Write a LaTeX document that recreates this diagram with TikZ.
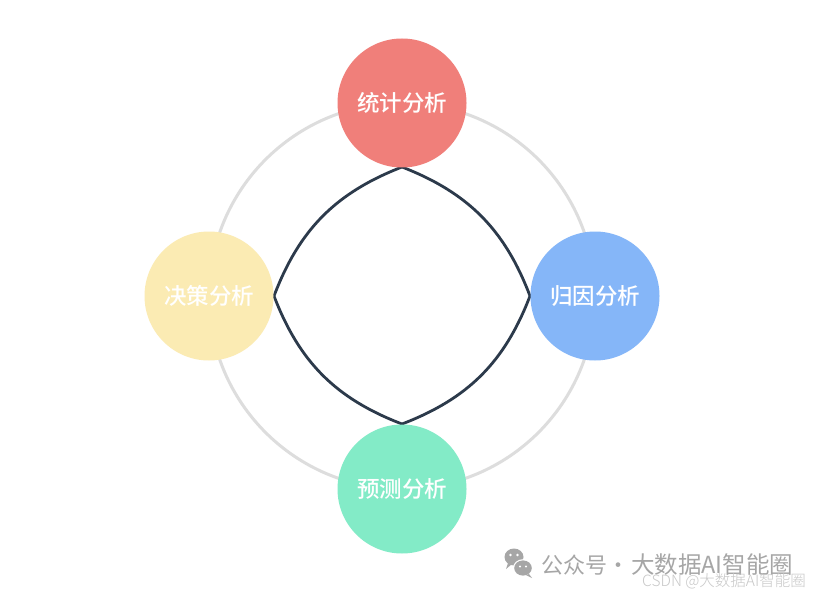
\documentclass[tikz,border=0pt]{standalone}
\usepackage{fontspec}
\newfontfamily\cjk{Noto Sans CJK SC}
\newfontfamily\cjkm{Noto Sans CJK SC Medium}
\newfontfamily\cjkl{Noto Sans CJK SC Light}
\definecolor{ringgray}{HTML}{DDDDDD}
\definecolor{inkline}{HTML}{2C3A4B}
\definecolor{cred}{HTML}{F07F7A}
\definecolor{cblue}{HTML}{85B6F8}
\definecolor{cgreen}{HTML}{83EBC7}
\definecolor{cyellow}{HTML}{FBEBB3}
\definecolor{wmgray}{HTML}{A6A6A6}
\definecolor{wmlight}{HTML}{C8C8C8}
\tikzset{
  topic/.style={circle, minimum size=129pt, inner sep=0pt, text=white, font=\cjkm\fontsize{22.5}{22.5}\selectfont},
  lens/.style={draw=inkline, line width=2.8pt, line join=round},
  wmtext/.style={anchor=west, inner sep=0pt, text=wmgray, font=\cjk\fontsize{22}{22}\selectfont}
}
\begin{document}
\begin{tikzpicture}[x=1pt,y=-1pt]
\useasboundingbox[fill=white] (0,0) rectangle (816,596);
\coordinate (c) at (402,296);
\draw[ringgray, line width=3pt] (c) circle[radius=193];
% inner lens shape
\coordinate (pt) at (402,167);
\coordinate (pr) at (530,296);
\coordinate (pb) at (402,424);
\coordinate (pl) at (274,296);
\draw[lens] (pt) to[bend left=24] (pr) to[bend left=24] (pb) to[bend left=24] (pl) to[bend left=24] (pt);
% topic circles
\node[topic, fill=cred] (top) at (402,103) {统计分析};
\node[topic, fill=cblue] (right) at (595,296) {归因分析};
\node[topic, fill=cgreen] (bottom) at (402,489) {预测分析};
\node[topic, fill=cyellow] (left) at (209,296) {决策分析};
% watermark icon
\fill[wmgray] (514,557) ellipse[x radius=9.5, y radius=8.5];
\fill[wmgray] (508,563) -- (506,569) -- (512,564) -- cycle;
\fill[white] (523,568) ellipse[x radius=10, y radius=8.8];
\fill[wmgray] (523,568) ellipse[x radius=8.8, y radius=7.6];
\fill[wmgray] (529,574) -- (532,578) -- (526,575) -- cycle;
\fill[white] (510.5,555) circle[radius=1.3] (517.5,555) circle[radius=1.3];
\fill[white] (520,566.5) circle[radius=1.1] (526,566.5) circle[radius=1.1];
\node[wmtext] (wm) at (541,565) {公众号·\hspace{2pt}{\fontsize{23.5}{23.5}\selectfont 大数据AI智能圈}};
\node[anchor=east, inner sep=0pt, text=wmlight, font=\cjkl\fontsize{15.5}{15.5}\selectfont] (csdn) at (806,581) {CSDN @大数据AI智能圈};
\end{tikzpicture}
\end{document}
